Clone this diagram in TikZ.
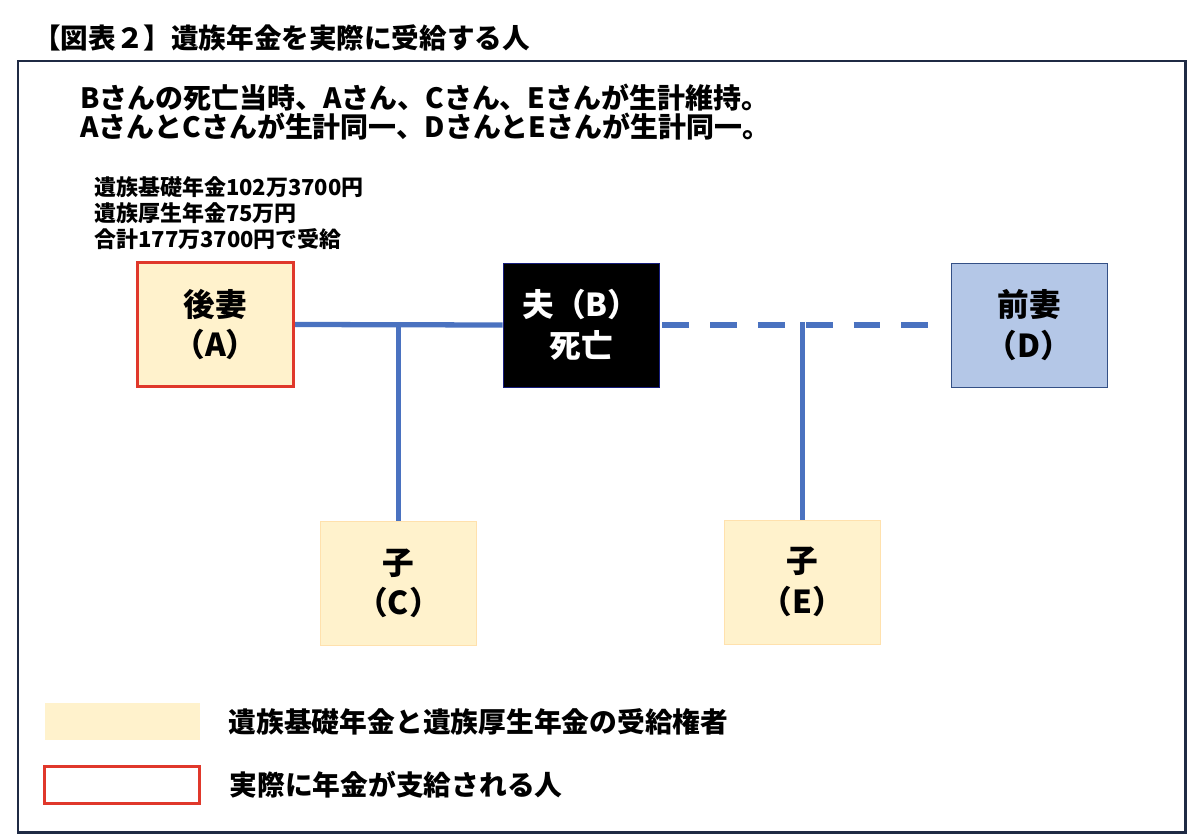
\documentclass[tikz,border=0pt]{standalone}
\usepackage{fontspec}
\setmainfont{Noto Sans CJK JP}
\usetikzlibrary{positioning}
\definecolor{pensionYellow}{HTML}{FFF2CC}
\definecolor{payRed}{HTML}{E0382B}
\definecolor{famBlue}{HTML}{4A72C0}
\definecolor{exBlue}{HTML}{B4C7E7}
\definecolor{frameNavy}{HTML}{1F2A44}
\tikzset{
  person/.style={draw, thin, minimum width=3.12cm, minimum height=2.48cm, inner sep=0pt,
    align=center, font=\fontsize{18}{23}\selectfont\bfseries},
  heir/.style={person, fill=pensionYellow, draw=pensionYellow!85!orange},
  payee/.style={person, fill=pensionYellow, draw=payRed, line width=1.9pt},
  famline/.style={draw=famBlue, line width=3pt},
  exline/.style={famline, dash pattern=on 15.3pt off 11.9pt},
  keybox/.style={minimum width=3.1cm, minimum height=0.74cm, inner sep=0pt},
  keytext/.style={font=\fontsize{15.8}{18}\selectfont\bfseries, inner sep=0pt}
}
\begin{document}
\begin{tikzpicture}[x=0.02cm, y=-0.02cm]
		\useasboundingbox (0,0) rectangle (1200,838);
		\node[font=\fontsize{15.7}{18}\selectfont\bfseries, anchor=west, inner sep=0pt] (title) at (33,38) {【図表２】遺族年金を実際に受給する人};
		\draw[frameNavy, line width=1.7pt] (18,61) rectangle (1185,832);
		\node[font=\fontsize{15.9}{16.5}\selectfont\bfseries, anchor=west, align=left, inner sep=0pt] (cond) at (80,112)
			{Bさんの死亡当時、Aさん、Cさん、Eさんが生計維持。\\AさんとCさんが生計同一、DさんとEさんが生計同一。};
		\node[font=\fontsize{12.5}{14.7}\selectfont\bfseries, anchor=west, align=left, inner sep=0pt] (amount) at (94,213)
			{遺族基礎年金102万3700円\\遺族厚生年金75万円\\合計177万3700円で受給};
		% family
		\node[payee] (wifeA) at (215.5,324.5) {後妻\\（A）};
		\node[person, fill=black, draw=frameNavy!70!blue, text=white] (husbB) at (581,325) {夫（B）\\死亡};
		\node[person, fill=exBlue, draw=famBlue!70!black] (exwifeD) at (1029,325) {前妻\\（D）};
		\node[heir] (childC) at (398.5,583.5) {子\\（C）};
		\node[heir] (childE) at (802.5,582) {子\\（E）};
		\coordinate (jC) at (childC.north |- wifeA.east);
		\coordinate (jE) at (childE.north |- husbB.east);
		\draw[famline] (wifeA.east) -- (husbB.west);
		\draw[famline] ([yshift=1.5pt]jC) -- (childC.north);
		\draw[exline, shorten <=0.06cm, shorten >=0.4cm] (husbB.east) -- (exwifeD.west);
		\draw[famline] ([yshift=1.5pt]jE) -- (childE.north);
		% legend
		\node[keybox, fill=pensionYellow] (keyHeir) at (122.5,721.5) {};
		\node[keytext, anchor=west, right=0.56cm of keyHeir] (keyHeirTxt) {遺族基礎年金と遺族厚生年金の受給権者};
		\node[keybox, draw=payRed, line width=1.9pt] (keyPay) at (122,785) {};
		\node[keytext, anchor=west, right=0.56cm of keyPay] (keyPayTxt) {実際に年金が支給される人};
	\end{tikzpicture}
\end{document}
